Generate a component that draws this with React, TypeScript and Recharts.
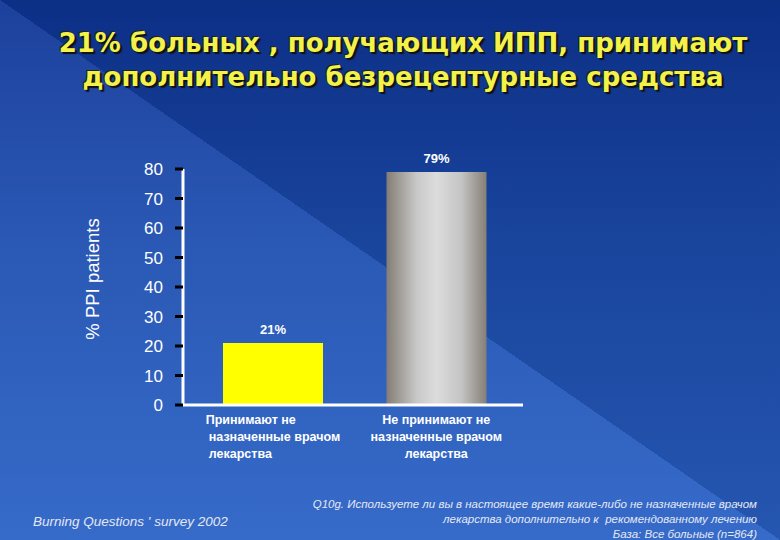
import React from 'react';
import { BarChart, Bar, XAxis, YAxis, LabelList, Cell } from 'recharts';

const categories = ['take', 'notTake'];
const categoryLines = [
    ['Принимают не', 'назначенные врачом', 'лекарства'],
    ['Не принимают не', 'назначенные врачом', 'лекарства'],
];
const shares = [21, 79];
const yTicks = [0, 10, 20, 30, 40, 50, 60, 70, 80];
const titleLines = ['21% больных , получающих ИПП, принимают', 'дополнительно безрецептурные средства'];
const noteLines = [
    'Q10g. Используете ли вы в настоящее время какие-либо не назначенные врачом',
    'лекарства дополнительно к  рекомендованному лечению',
    'База: Все больные (n=864)',
];

const data = categories.map((c, i) => ({ name: c, value: shares[i] }));
const fills = ['#ffff00', 'url(#greyBar)'];

const CategoryTick = (props: any) => {
    const { x, y, index } = props;
    const lines = categoryLines[index] || [];
    const leftAligned = index === 0;
    return (
        <g>
            {lines.map((line, i) => (
                <text
                    key={i}
                    x={leftAligned ? x - 67 + (i > 0 ? 3 : 0) : x}
                    y={y + 11 + i * 17}
                    textAnchor={leftAligned ? 'start' : 'middle'}
                    fill="#ffffff"
                    fontSize={12.5}
                    fontWeight="bold"
                    fontFamily="Liberation Sans, Arial, sans-serif"
                >
                    {line}
                </text>
            ))}
        </g>
    );
};

export default function App() {
    return (
        <div style={{
            position: 'absolute',
            left: 0,
            top: 0,
            width: 780,
            height: 540,
            overflow: 'hidden',
            background: 'linear-gradient(to top right, rgba(255,255,255,0.06) 50%, rgba(0,0,20,0.12) 50%), linear-gradient(to bottom, #0e3596 0%, #1d4eb0 45%, #2a62c6 100%)',
            fontFamily: 'Liberation Sans, Arial, sans-serif'
        }}>
            {/* Title */}
            {titleLines.map((t, i) => (
                <div key={i} style={{
                    position: 'absolute',
                    left: 0,
                    width: 806,
                    top: 28 + i * 34,
                    textAlign: 'center',
                    fontFamily: 'DejaVu Sans, Verdana, sans-serif',
                    fontWeight: 'bold',
                    fontSize: 26,
                    color: '#f2f24a',
                    textShadow: '2px 2px 1px #111, -1px -1px 0 #222'
                }}>{t}</div>
            ))}

            <div style={{ position: 'absolute', left: 0, top: 0 }}>
                <BarChart width={780} height={540} data={data} margin={{ top: 169, right: 257, bottom: 75, left: 103 }}>
                    <defs>
                        <linearGradient id="greyBar" x1="0" y1="0" x2="1" y2="0">
                            <stop offset="0%" stopColor="#837d74" />
                            <stop offset="30%" stopColor="#c8c8c8" />
                            <stop offset="50%" stopColor="#dcdcdc" />
                            <stop offset="75%" stopColor="#c4c4c4" />
                            <stop offset="100%" stopColor="#857f76" />
                        </linearGradient>
                    </defs>
                    <XAxis
                        dataKey="name"
                        axisLine={{ stroke: '#ffffff', strokeWidth: 3 }}
                        tickLine={false}
                        height={60}
                        interval={0}
                        padding={{ left: 8, right: 5 }}
                        tick={<CategoryTick />}
                    />
                    <YAxis
                        domain={[0, 80]}
                        ticks={yTicks}
                        width={80}
                        axisLine={{ stroke: '#ffffff', strokeWidth: 3 }}
                        tickLine={{ stroke: '#000000', strokeWidth: 3 }}
                        tickSize={8}
                        tickMargin={12}
                        tick={{ fill: '#ffffff', fontSize: 17, fontFamily: 'Liberation Sans, Arial, sans-serif' }}
                        label={{
                            value: '% PPI patients',
                            angle: -90,
                            position: 'insideLeft',
                            dx: -16,
                            dy: -8,
                            style: { fill: '#ffffff', fontSize: 18.5, textAnchor: 'middle', fontFamily: 'Liberation Sans, Arial, sans-serif' }
                        }}
                    />
                    <Bar dataKey="value" barSize={100} isAnimationActive={false}>
                        {data.map((d, i) => (
                            <Cell key={d.name} fill={fills[i]} />
                        ))}
                        <LabelList
                            dataKey="value"
                            position="top"
                            offset={9}
                            formatter={(v: any) => `${v}%`}
                            style={{ fill: '#ffffff', fontSize: 13, fontWeight: 'bold', fontFamily: 'Liberation Sans, Arial, sans-serif' }}
                        />
                    </Bar>
                </BarChart>
            </div>

            {/* Footnotes */}
            <div style={{
                position: 'absolute',
                left: 33,
                top: 514,
                fontStyle: 'italic',
                fontSize: 13.5,
                color: '#e4e8f4'
            }}>Burning Questions ' survey 2002</div>
            <div style={{
                position: 'absolute',
                right: 23,
                top: 497,
                textAlign: 'right',
                fontStyle: 'italic',
                fontSize: 11.5,
                lineHeight: '15px',
                color: '#e4e8f4'
            }}>
                {noteLines.map((l, i) => (
                    <div key={i} style={{ whiteSpace: 'pre' }}>{l}</div>
                ))}
            </div>
        </div>
    );
}
